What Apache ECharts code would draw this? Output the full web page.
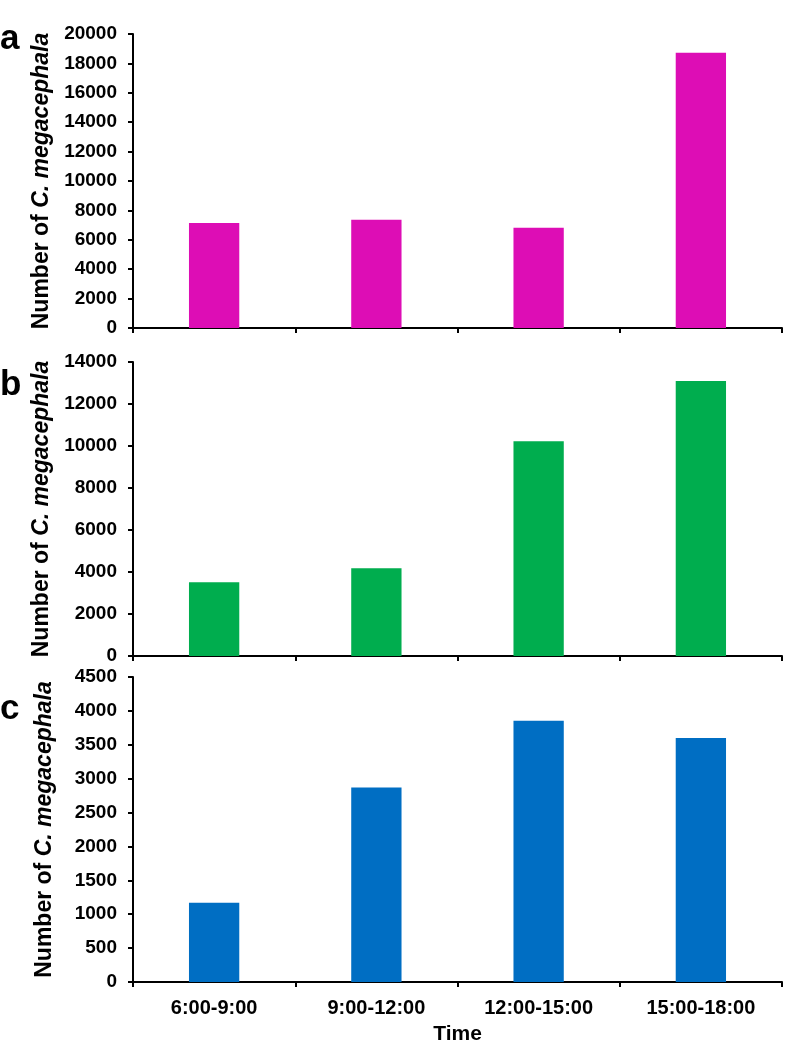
<!DOCTYPE html>
<html>
<head>
<meta charset="utf-8">
<script src="https://cdn.jsdelivr.net/npm/echarts@6/dist/echarts.min.js"></script>
<style>html,body{margin:0;padding:0;background:#fff;}#c{width:787px;height:1046px;}</style>
</head>
<body>
<div id="c"></div>
<script>
const categories = ['6:00-9:00', '9:00-12:00', '12:00-15:00', '15:00-18:00'];
const valuesA = [7150, 7370, 6820, 18730];
const valuesB = [3510, 4180, 10230, 13090];
const valuesC = [1170, 2870, 3855, 3600];
const panelLetters = ['a', 'b', 'c'];
const yMax = [20000, 14000, 4500];
const yStep = [2000, 2000, 500];
const colors = ['#DD0DB5', '#00AD4E', '#006EC3'];
const seriesValues = [valuesA, valuesB, valuesC];

const FONT = '"Liberation Sans", Arial, sans-serif';
const grids = [
  {left: 133, top: 34, width: 649, height: 294},
  {left: 133, top: 362, width: 649, height: 294},
  {left: 133, top: 677, width: 649, height: 313}
];
const letterBaselines = [22, 368, 692];

const chart = echarts.init(document.getElementById('c'), null, {renderer: 'canvas'});
const axisLine = {show: true, lineStyle: {color: '#000', width: 2}};
const option = {
  animation: false,
  backgroundColor: '#fff',
  grid: grids,
  xAxis: grids.map((g, i) => ({
    type: 'category',
    gridIndex: i,
    data: categories,
    boundaryGap: true,
    axisLine: axisLine,
    axisTick: {show: true, length: 5, lineStyle: {color: '#000', width: 2}},
    axisLabel: {show: i === 2, margin: 16, fontFamily: FONT, fontWeight: 'bold', fontSize: 20, color: '#000'},
    name: i === 2 ? 'Time' : '',
    nameLocation: 'middle',
    nameGap: 42,
    nameTextStyle: {fontFamily: FONT, fontWeight: 'bold', fontSize: 21, color: '#000'},
    splitLine: {show: false}
  })),
  yAxis: grids.map((g, i) => ({
    type: 'value',
    gridIndex: i,
    min: 0,
    max: yMax[i],
    interval: yStep[i],
    axisLine: axisLine,
    axisTick: {show: true, length: 5, lineStyle: {color: '#000', width: 2}},
    axisLabel: {margin: 16, fontFamily: FONT, fontWeight: 'bold', fontSize: 19, color: '#000',
      formatter: v => String(v)},
    splitLine: {show: false},
    name: '{n|Number of }{i|C. megacephala}',
    nameLocation: 'middle',
    nameGap: 77,
    nameRotate: 90,
    nameTextStyle: {
      rich: {
        n: {fontFamily: FONT, fontWeight: 'bold', fontSize: 23, color: '#000'},
        i: {fontFamily: FONT, fontWeight: 'bold', fontStyle: 'italic', fontSize: 23, color: '#000'}
      }
    }
  })),
  series: seriesValues.map((vals, i) => ({
    type: 'bar',
    xAxisIndex: i,
    yAxisIndex: i,
    data: vals,
    barWidth: '31%',
    itemStyle: {color: colors[i]}
  })),
  graphic: panelLetters.map((l, i) => ({
    type: 'text',
    x: 0,
    y: letterBaselines[i],
    style: {text: l, fontFamily: FONT, fontWeight: 'bold', fontSize: 35, fill: '#000', textVerticalAlign: 'alphabetic', verticalAlign: 'alphabetic'}
  }))
};
chart.setOption(option);
</script>
</body>
</html>
